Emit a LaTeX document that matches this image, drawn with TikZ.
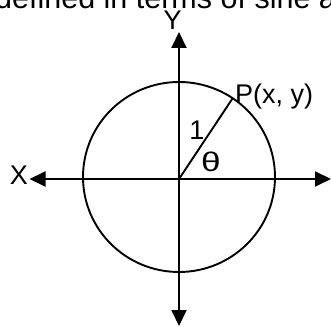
\documentclass[tikz,border=0pt]{standalone}
\usepackage{fontspec}
\setmainfont{Liberation Sans}
\usetikzlibrary{arrows.meta,calc}
\begin{document}
\begin{tikzpicture}[x=1pt,y=1pt,
  axis/.style={line width=1.9pt,{Triangle[length=16pt,width=15pt]}-{Triangle[length=16pt,width=15pt]}},
  lbl/.style={inner sep=0pt,anchor=base,font=\fontsize{27}{31}\selectfont},
  thin/.style={line width=1.9pt}]
\useasboundingbox (0,0) rectangle (331,326);
\clip (0,0) rectangle (331,326);
\fill[white] (0,0) rectangle (331,326);
\node[inner sep=0pt,anchor=base west,font=\fontsize{30.5}{34}\selectfont] (title) at (-5,317.7) {defined in terms of sine and cosine};
\coordinate (O) at (179,147);
\coordinate (L) at (29.5,147);
\coordinate (R) at (331,147);
\coordinate (T) at (179,294);
\coordinate (B) at (179,0);
\coordinate (C) at (179,149);
\draw[thin] (C) ellipse [x radius=96, y radius=95];
\coordinate (P) at ($(C)+(56:96 and 95)$);
\draw[axis] (L) -- (R);
\draw[axis] (T) -- (B);
\draw[thin] (O) -- (P);
\node[lbl] (xl) at (19,141) {X};
\node[lbl] (yl) at (172.7,296) {Y};
\node[lbl,anchor=base west] (pl) at (235,222.7) {P(x, y)};
\node[lbl] (one) at (197,186) {1};
\node[lbl] (th) at (211,154.3) {\scalebox{1.3}[1]{θ}};
\end{tikzpicture}
\end{document}
